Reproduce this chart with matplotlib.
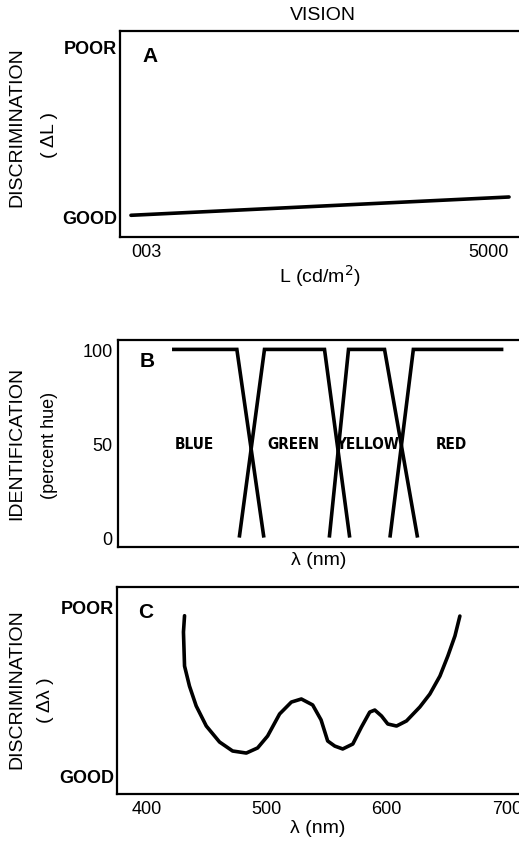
import numpy as np
import matplotlib
matplotlib.use("Agg")
import matplotlib.pyplot as plt

plt.rcParams['font.family'] = ['Liberation Sans', 'DejaVu Sans']

# panel A: luminance discrimination
lum = [0.003, 5000]
lum_disc = [0.01, 0.117]
lum_ticklabels = ["003", "5000"]

# panel B: hue identification (nm, percent)
blue_x = [421, 475, 497.5]
blue_y = [100, 100, 0]
green_x = [477, 498, 548, 569]
green_y = [0, 100, 100, 0]
yellow_x = [552, 568, 598, 625.5]
yellow_y = [0, 100, 100, 0]
red_x = [602.5, 622, 697]
red_y = [0, 100, 100]
hue_names = ["BLUE", "GREEN", "YELLOW", "RED"]
hue_pos = [440, 522, 584, 654]

# panel C: wavelength discrimination
wl = [431.7, 430.8, 431.7, 435.8, 441.4, 449.8, 460.8, 471.7, 483.1, 492.5, 500.8, 510.8, 520.6,
      528.9, 538.3, 545.3, 550.8, 556.7, 563.3, 571.7, 578.9, 585.8, 590.0, 595.6, 600.8, 608.1,
      616.4, 627.5, 635.8, 644.2, 650.8, 656.7, 660.8]
wl_disc = [0.943, 0.847, 0.647, 0.529, 0.412, 0.294, 0.200, 0.147, 0.135, 0.165, 0.235, 0.365, 0.435,
           0.453, 0.418, 0.330, 0.206, 0.176, 0.159, 0.188, 0.288, 0.376, 0.388, 0.353, 0.306, 0.294,
           0.324, 0.406, 0.482, 0.588, 0.706, 0.824, 0.941]

W, H = 519, 845
fig = plt.figure(figsize=(W / 100, H / 100), dpi=100)


def box(l, t, b):
    return [l / W, 1 - b / H, 1 - l / W, (b - t) / H]


def style(ax):
    for s in ['left', 'bottom', 'top']:
        ax.spines[s].set_linewidth(1.6)
    ax.spines['right'].set_visible(False)
    ax.tick_params(length=0, labelsize=13, pad=4)


lw = 2.6

# ---- A
axA = fig.add_axes(box(120, 32, 238))
axA.plot(lum, lum_disc, color='black', lw=lw, solid_capstyle='round')
axA.set_xscale('log')
axA.set_xlim(0.00198, 7300)
axA.set_ylim(-0.117, 1.088)
axA.minorticks_off()
axA.set_xticks(lum)
axA.set_xticklabels(lum_ticklabels)
labs = axA.get_xticklabels()
labs[0].set_ha('left')
labs[1].set_ha('right')
axA.set_yticks([0, 1])
axA.set_yticklabels(["GOOD", "POOR"], fontsize=12, fontweight='bold')
style(axA)
axA.tick_params(axis='y', pad=2)
axA.set_xlabel("L (cd/m$^2$)", fontsize=14, labelpad=2)

# ---- B
axB = fig.add_axes(box(118, 341, 548))
for xs, ys in [(blue_x, blue_y), (green_x, green_y), (yellow_x, yellow_y), (red_x, red_y)]:
    axB.plot(xs, ys, color='black', lw=lw, solid_capstyle='butt', solid_joinstyle='miter')
for name, xp in zip(hue_names, hue_pos):
    axB.text(xp, 50, name, fontsize=11, fontstretch='condensed', fontweight='bold',
             family='DejaVu Sans', ha='center', va='center')
axB.set_xlim(376, 710)
axB.set_ylim(-5, 105)
axB.set_xticks([])
axB.set_yticks([0, 50, 100])
style(axB)
axB.set_xlabel("λ (nm)", fontsize=14, labelpad=3)

# ---- C
axC = fig.add_axes(box(117, 588, 795))
axC.plot(wl, wl_disc, color='black', lw=lw, solid_capstyle='round', solid_joinstyle='round')
axC.set_xlim(375.5, 710)
axC.set_ylim(-0.106, 1.112)
axC.set_xticks([400, 500, 600, 700])
axC.set_yticks([0, 1])
axC.set_yticklabels(["GOOD", "POOR"], fontsize=12, fontweight='bold')
style(axC)
axC.tick_params(axis='y', pad=2)
axC.set_xlabel("λ (nm)", fontsize=14, labelpad=2)


# panel letters & titles (pixel positions)
def ftext(x, y, s, **kw):
    fig.text(x / W, 1 - y / H, s, ha='center', va='center', **kw)


ftext(150, 56, "A", fontsize=15, fontweight='bold')
ftext(147, 362, "B", fontsize=15, fontweight='bold')
ftext(146, 613, "C", fontsize=15, fontweight='bold')
ftext(323, 15, "VISION", fontsize=14)

ftext(17, 127, "DISCRIMINATION", fontsize=14, rotation=90)
ftext(50, 135, "( ΔL )", fontsize=14, rotation=90)
ftext(17, 443, "IDENTIFICATION", fontsize=14, rotation=90)
ftext(49, 445, "(percent hue)", fontsize=13, rotation=90)
ftext(17, 689, "DISCRIMINATION", fontsize=14, rotation=90)
ftext(45, 700, "( Δλ )", fontsize=14, rotation=90)

fig.savefig("out.png", dpi=100)
